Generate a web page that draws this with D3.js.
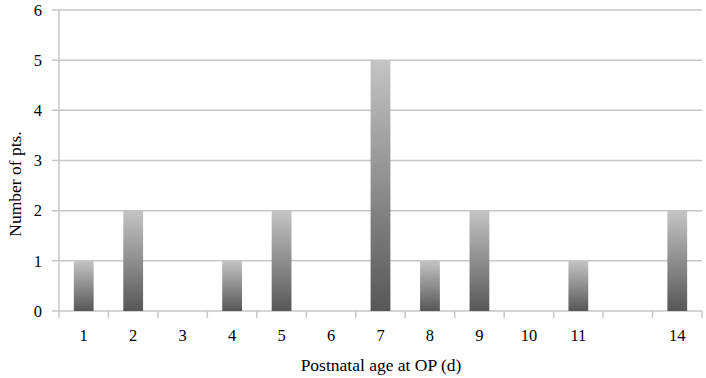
<!DOCTYPE html>
<html>
<head>
<meta charset="utf-8">
<script src="https://cdn.jsdelivr.net/npm/d3@7"></script>
<style>
  body { margin: 0; background: #fff; }
  text { font-family: "Liberation Serif", "DejaVu Serif", serif; fill: #000; }
</style>
</head>
<body>
<div id="chart"></div>
<script>
// chart data
var categories = ["1", "2", "3", "4", "5", "6", "7", "8", "9", "10", "11", "", "14"];
var counts = [1, 2, 0, 1, 2, 0, 5, 1, 2, 0, 1, 0, 2];
var yTicks = [0, 1, 2, 3, 4, 5, 6];

var W = 706, H = 378;
var margin = {top: 10, right: 4, bottom: 67, left: 59},
    width = W - margin.left - margin.right,
    height = H - margin.top - margin.bottom;

var svg = d3.select("#chart")
  .append("svg")
    .attr("width", W)
    .attr("height", H);

var defs = svg.append("defs");
var grad = defs.append("linearGradient")
    .attr("id", "barGrad")
    .attr("x1", 0).attr("y1", 0).attr("x2", 0).attr("y2", 1);
grad.append("stop").attr("offset", "0%").attr("stop-color", "#c4c4c4");
grad.append("stop").attr("offset", "100%").attr("stop-color", "#575757");

var g = svg.append("g")
    .attr("transform", "translate(" + margin.left + "," + margin.top + ")");

var keys = categories.map(function(d, i) { return i; });
var x = d3.scaleBand()
  .domain(keys)
  .range([0, width])
  .paddingInner(0.6)
  .paddingOuter(0.3);

var y = d3.scaleLinear()
  .domain([0, 6])
  .range([height, 0]);

// gridlines
g.selectAll(".grid")
  .data(yTicks)
  .enter()
  .append("line")
    .attr("x1", -7)
    .attr("x2", width)
    .attr("y1", function(d) { return y(d); })
    .attr("y2", function(d) { return y(d); })
    .attr("stroke", "#c6c6c6")
    .attr("stroke-width", 1.5);

// y axis line
g.append("line")
  .attr("x1", 0).attr("x2", 0)
  .attr("y1", 0).attr("y2", height)
  .attr("stroke", "#c6c6c6")
  .attr("stroke-width", 1.5);

// y tick labels
g.selectAll(".ylab")
  .data(yTicks)
  .enter()
  .append("text")
    .attr("x", -17)
    .attr("y", function(d) { return y(d); })
    .attr("dy", "0.35em")
    .attr("text-anchor", "end")
    .style("font-size", "16.5px")
    .text(function(d) { return d; });

// x axis ticks at band boundaries
var bounds = d3.range(categories.length + 1).map(function(i) { return i * width / categories.length; });
g.selectAll(".xtick")
  .data(bounds)
  .enter()
  .append("line")
    .attr("x1", function(d) { return d; })
    .attr("x2", function(d) { return d; })
    .attr("y1", height)
    .attr("y2", height + 7)
    .attr("stroke", "#c6c6c6")
    .attr("stroke-width", 1.5);

// bars
g.selectAll(".bar")
  .data(counts)
  .enter()
  .append("rect")
    .attr("x", function(d, i) { return x(i); })
    .attr("y", function(d) { return y(d); })
    .attr("width", x.bandwidth())
    .attr("height", function(d) { return height - y(d); })
    .attr("fill", "url(#barGrad)")
    .attr("display", function(d) { return d > 0 ? null : "none"; });

// x tick labels
g.selectAll(".xlab")
  .data(categories)
  .enter()
  .append("text")
    .attr("x", function(d, i) { return x(i) + x.bandwidth() / 2; })
    .attr("y", height + 30)
    .attr("text-anchor", "middle")
    .style("font-size", "16.5px")
    .text(function(d) { return d; });

// axis titles
svg.append("text")
  .attr("x", 381)
  .attr("y", 371)
  .attr("text-anchor", "middle")
  .style("font-size", "17.5px")
  .text("Postnatal age at OP (d)");

svg.append("text")
  .attr("transform", "translate(21," + 184 + ") rotate(-90)")
  .attr("text-anchor", "middle")
  .style("font-size", "17.5px")
  .text("Number of pts.");
</script>
</body>
</html>
